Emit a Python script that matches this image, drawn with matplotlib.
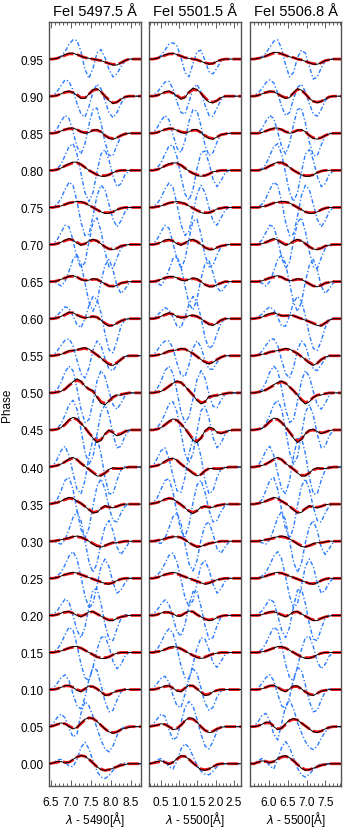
import numpy as np
import matplotlib.pyplot as plt
from matplotlib.ticker import MultipleLocator

plt.rcParams['font.family'] = ['Liberation Sans', 'DejaVu Sans']

# fases do ciclo
phases = [0.00, 0.05, 0.10, 0.15, 0.20, 0.25, 0.30, 0.35, 0.40, 0.45,
          0.50, 0.55, 0.60, 0.65, 0.70, 0.75, 0.80, 0.85, 0.90, 0.95]

# grades de comprimento de onda
lam_a = [6.45, 6.55, 6.65, 6.75, 6.85, 6.95, 7.05, 7.15, 7.25, 7.35, 7.45, 7.55,
         7.65, 7.75, 7.85, 7.95, 8.05, 8.15, 8.25, 8.35, 8.45, 8.55, 8.65, 8.75]
lam_b = [0.17, 0.28, 0.39, 0.50, 0.61, 0.72, 0.83, 0.94, 1.05, 1.16, 1.27, 1.38,
         1.49, 1.60, 1.71, 1.82, 1.93, 2.04, 2.15, 2.26, 2.37, 2.48, 2.59, 2.70]
lam_c = [5.500, 5.605, 5.710, 5.815, 5.920, 6.025, 6.130, 6.235, 6.340, 6.445, 6.550, 6.655,
         6.760, 6.865, 6.970, 7.075, 7.180, 7.285, 7.390, 7.495, 7.600, 7.705, 7.810, 7.915]

# perfis residuais (unidades de 0.001 em fase), uma linha por fase
# --- FeI 5497.5 ---
obs_a = [
    [0, 1, 3, 3, 1, 2, 6, 9, 11, 10, 6, 1, -4, -8, -9, -8, -6, -4, -2, -1, 0, 0, 0, 0],
    [0, 1, 3, 5, 4, 0, -3, -1, 5, 10, 12, 11, 7, 2, -3, -7, -9, -7, -4, -2, -1, 0, 0, 0],
    [0, 0, 1, 3, 5, 6, 3, -1, -3, 1, 5, 4, 1, -3, -8, -7, -4, -2, -1, 0, 0, 0, 0, 0],
    [0, 0, 1, 2, 4, 6, 8, 8, 6, 3, 0, -3, -6, -8, -8, -6, -3, -1, 0, 0, 0, 0, 0, 0],
    [0, 0, 1, 3, 5, 5, 3, 0, -2, 1, 5, 5, 2, -1, -4, -7, -7, -4, -2, -1, 0, 0, 0, 0],
    [0, 0, 1, 3, 5, 7, 8, 7, 5, 3, 1, -1, -3, -5, -7, -8, -6, -3, -1, 0, 0, 0, 0, 0],
    [0, 0, 1, 2, 3, 5, 6, 7, 6, 3, 0, -4, -7, -8, -6, -3, -2, -2, -1, 0, 0, 0, 0, 0],
    [0, 1, 2, 4, 7, 9, 8, 4, 1, -3, -8, -12, -11, -6, -2, -4, -5, -3, -1, 0, 0, 0, 0, 0],
    [0, 1, 2, 4, 7, 11, 13, 10, 5, 1, -3, -8, -12, -12, -8, -3, -1, -2, -2, -1, 0, 0, 0, 0],
    [0, 0, 1, 3, 8, 14, 17, 15, 9, 3, -4, -11, -17, -14, -5, 0, -4, -8, -6, -2, 0, 0, 0, 0],
    [0, 0, 1, 2, 5, 10, 15, 19, 16, 9, 5, 3, -6, -14, -16, -11, -5, -3, -3, -1, 0, 0, 0, 0],
    [0, 0, 1, 2, 4, 7, 7, 8, 10, 11, 9, 5, 1, -3, -8, -12, -13, -10, -5, -1, 0, 0, 0, 0],
    [0, 0, 1, 3, 6, 9, 8, 5, 2, 1, 2, 3, 2, -2, -7, -10, -9, -6, -3, -1, 0, 0, 0, 0],
    [0, 0, 1, 3, 5, 7, 8, 6, 3, 1, 2, 4, 3, 0, -3, -6, -7, -5, -2, -1, 0, 0, 0, 0],
    [0, 0, 1, 3, 6, 8, 6, 2, -1, 1, 5, 7, 5, 1, -3, -6, -7, -5, -2, -1, 0, 0, 0, 0],
    [0, 0, 1, 2, 4, 6, 7, 8, 8, 6, 3, 0, -3, -6, -8, -8, -6, -3, -1, 0, 0, 0, 0, 0],
    [0, 0, 1, 3, 6, 9, 11, 11, 8, 4, 0, -3, -6, -8, -8, -6, -3, -1, 0, 0, 0, 0, 0, 0],
    [0, 0, 1, 3, 5, 7, 7, 5, 2, 0, 1, 4, 5, 2, -3, -7, -8, -6, -3, -1, 0, 0, 0, 0],
    [0, 0, 1, 3, 6, 7, 5, 1, -3, -3, 3, 9, 10, 6, 0, -6, -10, -8, -4, -1, 0, 0, 0, 0],
    [0, 0, 1, 3, 6, 8, 8, 6, 4, 2, 1, 0, -1, -2, -4, -6, -8, -8, -5, -2, 0, 0, 0, 0],
]
fit_a = [
    [0, 1, 2, 3, 2, 2, 5, 9, 11, 10, 6, 1, -4, -7, -9, -8, -6, -4, -2, -1, 0, 0, 0, 0],
    [0, 1, 3, 4, 4, 1, -2, -1, 4, 9, 12, 11, 7, 2, -3, -7, -8, -7, -4, -2, 0, 0, 0, 0],
    [0, 0, 1, 3, 5, 5, 3, 0, -2, 1, 4, 4, 1, -3, -7, -7, -4, -2, -1, 0, 0, 0, 0, 0],
    [0, 0, 1, 2, 4, 6, 7, 7, 6, 3, 0, -3, -6, -7, -7, -6, -3, -1, 0, 0, 0, 0, 0, 0],
    [0, 0, 1, 3, 4, 5, 3, 1, -1, 1, 4, 5, 2, -1, -4, -6, -6, -4, -2, -1, 0, 0, 0, 0],
    [0, 0, 1, 3, 5, 6, 7, 7, 5, 3, 1, -1, -3, -5, -7, -7, -6, -3, -1, 0, 0, 0, 0, 0],
    [0, 0, 1, 2, 3, 4, 6, 6, 5, 3, 0, -3, -6, -7, -6, -4, -2, -2, -1, 0, 0, 0, 0, 0],
    [0, 1, 2, 4, 6, 8, 7, 4, 1, -3, -7, -11, -10, -6, -3, -4, -4, -3, -1, 0, 0, 0, 0, 0],
    [0, 1, 2, 4, 7, 10, 12, 10, 5, 1, -3, -7, -11, -11, -8, -4, -2, -2, -2, -1, 0, 0, 0, 0],
    [0, 0, 1, 3, 7, 13, 16, 14, 9, 3, -4, -10, -15, -13, -6, -1, -3, -6, -5, -2, 0, 0, 0, 0],
    [0, 0, 1, 2, 5, 10, 14, 17, 15, 9, 5, 2, -5, -12, -14, -11, -6, -3, -2, -1, 0, 0, 0, 0],
    [0, 0, 1, 2, 4, 6, 7, 8, 9, 10, 8, 5, 1, -3, -7, -11, -12, -9, -5, -1, 0, 0, 0, 0],
    [0, 0, 1, 3, 5, 8, 8, 5, 3, 1, 2, 3, 2, -2, -6, -9, -9, -6, -3, -1, 0, 0, 0, 0],
    [0, 0, 1, 3, 5, 7, 7, 6, 3, 2, 2, 3, 3, 0, -3, -6, -6, -5, -2, -1, 0, 0, 0, 0],
    [0, 0, 1, 3, 5, 7, 6, 3, 0, 1, 4, 6, 5, 1, -3, -6, -6, -5, -2, -1, 0, 0, 0, 0],
    [0, 0, 1, 2, 4, 6, 7, 7, 7, 6, 3, 0, -3, -6, -7, -7, -6, -3, -1, 0, 0, 0, 0, 0],
    [0, 0, 1, 3, 6, 8, 10, 10, 8, 4, 0, -3, -6, -7, -7, -6, -3, -1, 0, 0, 0, 0, 0, 0],
    [0, 0, 1, 3, 5, 6, 6, 5, 2, 1, 2, 4, 4, 2, -3, -6, -7, -6, -3, -1, 0, 0, 0, 0],
    [0, 0, 1, 3, 5, 6, 5, 2, -2, -2, 3, 8, 9, 6, 0, -5, -9, -8, -4, -1, 0, 0, 0, 0],
    [0, 0, 1, 3, 5, 7, 7, 6, 4, 2, 1, 0, -1, -2, -4, -6, -7, -7, -5, -2, 0, 0, 0, 0],
]
blue_a = [
    [0, 1, 5, 6, 2, -3, -4, 6, 22, 29, 20, 4, -10, -18, -20, -16, -9, -3, 0, 1, 0, 0, 0, 0],
    [0, 4, 12, 17, 12, -2, -14, -10, 18, 34, 28, 14, -2, -18, -30, -34, -26, -12, -3, 0, 0, 0, 0, 0],
    [0, 2, 8, 16, 20, 12, -6, -22, -26, -10, 14, 30, 26, 6, -16, -30, -28, -14, -3, 1, 0, 0, 0, 0],
    [0, 1, 4, 12, 24, 34, 30, 10, -16, -34, -38, -20, 4, 20, 22, 8, -12, -22, -16, -5, 0, 0, 0, 0],
    [0, 2, 6, 14, 22, 18, 0, -20, -30, -16, 12, 34, 36, 16, -12, -32, -34, -18, -4, 1, 0, 0, 0, 0],
    [0, 1, 3, 8, 18, 30, 36, 26, 2, -24, -40, -34, -10, 16, 26, 16, -6, -20, -16, -6, 0, 0, 0, 0],
    [0, 0, -2, -4, 2, 16, 32, 40, 28, 0, -28, -42, -30, -2, 20, 28, 14, -8, -18, -10, -2, 0, 0, 0],
    [0, 1, 6, 18, 32, 36, 20, -8, -34, -46, -32, -2, 24, 34, 20, -4, -22, -24, -12, -3, 0, 0, 0, 0],
    [0, 2, 10, 22, 28, 16, -8, -30, -36, -18, 14, 38, 40, 18, -14, -36, -36, -18, -4, 1, 0, 0, 0, 0],
    [0, 0, 2, 8, 20, 34, 40, 28, 0, -30, -46, -36, -6, 24, 34, 20, -6, -24, -22, -8, -1, 0, 0, 0],
    [0, 1, 4, 14, 28, 36, 30, 6, -22, -40, -36, -12, 16, 30, 22, 2, -16, -22, -14, -4, 0, 0, 0, 0],
    [0, 1, 6, 14, 21, 23, 14, -6, -24, -30, -16, 8, 20, 14, -4, -18, -20, -12, -4, 0, 0, 0, 0, 0],
    [0, 1, 4, 10, 16, 14, 4, -8, -12, 0, 18, 30, 26, 8, -20, -42, -46, -30, -10, -1, 0, 0, 0, 0],
    [0, 0, -2, -6, 0, 14, 30, 36, 24, -2, -28, -40, -28, 0, 22, 30, 16, -6, -16, -10, -2, 0, 0, 0],
    [0, 1, 6, 16, 26, 24, 6, -18, -32, -24, 4, 30, 36, 18, -10, -30, -32, -18, -5, 0, 0, 0, 0, 0],
    [0, 1, 4, 12, 24, 34, 30, 8, -20, -38, -36, -12, 16, 30, 24, 4, -16, -26, -18, -6, 0, 0, 0, 0],
    [0, 0, 2, 8, 20, 32, 36, 22, -4, -30, -42, -30, -2, 22, 28, 14, -8, -22, -18, -6, -1, 0, 0, 0],
    [0, 1, 6, 16, 24, 20, 2, -18, -28, -14, 12, 32, 34, 14, -12, -30, -30, -16, -4, 0, 0, 0, 0, 0],
    [0, 1, 6, 14, 22, 20, 8, -10, -24, -28, -14, 6, 16, 10, -6, -22, -29, -22, -10, -2, 0, 0, 0, 0],
    [0, 0, 1, 4, 10, 20, 26, 25, 10, -14, -26, -12, 8, 13, 2, -14, -24, -20, -10, -3, 0, 0, 0, 0],
]

# --- FeI 5501.5 ---
obs_b = [
    [0, 1, 3, 4, 2, -1, 2, 7, 11, 10, 6, 1, -4, -8, -9, -7, -4, -1, 0, 0, 0, 0, 0, 0],
    [0, 1, 2, 4, 3, 0, -4, -3, 2, 8, 12, 11, 6, 0, -5, -8, -7, -3, -1, 0, 0, 0, 0, 0],
    [0, 0, 1, 3, 5, 5, 2, -2, -3, 2, 6, 5, 1, -4, -8, -7, -3, -1, 0, 0, 0, 0, 0, 0],
    [0, 0, 1, 2, 4, 7, 8, 7, 5, 2, -1, -4, -7, -8, -7, -4, -2, -1, 0, 0, 0, 0, 0, 0],
    [0, 0, 1, 3, 5, 4, 2, -1, -1, 3, 6, 5, 1, -2, -5, -7, -6, -3, -1, 0, 0, 0, 0, 0],
    [0, 0, 1, 3, 5, 7, 8, 7, 4, 2, 0, -2, -4, -6, -8, -7, -4, -2, -1, 0, 0, 0, 0, 0],
    [0, 0, 1, 2, 4, 5, 6, 6, 5, 2, -2, -5, -8, -7, -5, -3, -2, -1, 0, 0, 0, 0, 0, 0],
    [0, 1, 2, 4, 7, 8, 7, 3, 0, -5, -10, -13, -9, -4, -3, -5, -4, -2, -1, 0, 0, 0, 0, 0],
    [0, 1, 2, 4, 8, 11, 12, 9, 4, 0, -4, -9, -12, -10, -5, -2, -2, -3, -2, -1, 0, 0, 0, 0],
    [0, 0, 1, 3, 7, 12, 15, 13, 8, 2, -6, -14, -17, -11, -1, 4, 2, -3, -5, -3, -1, 0, 0, 0],
    [0, 0, 1, 2, 5, 9, 13, 16, 14, 9, 3, -3, -10, -15, -12, -5, -4, -4, -2, -1, 0, 0, 0, 0],
    [0, 0, 1, 2, 4, 7, 7, 8, 10, 9, 6, 3, -1, -5, -9, -11, -9, -5, -2, 0, 0, 0, 0, 0],
    [0, 0, 1, 3, 6, 8, 6, 3, 1, 2, 4, 5, 3, 0, -4, -8, -9, -6, -2, 0, 0, 0, 0, 0],
    [0, 0, 1, 3, 5, 7, 7, 5, 2, 1, 3, 5, 4, 0, -4, -7, -7, -4, -2, 0, 0, 0, 0, 0],
    [0, 0, 1, 3, 6, 7, 5, 1, -1, 2, 6, 7, 4, 0, -4, -7, -7, -4, -2, -1, 0, 0, 0, 0],
    [0, 0, 1, 2, 4, 6, 7, 8, 7, 5, 2, -1, -4, -7, -8, -7, -5, -2, -1, 0, 0, 0, 0, 0],
    [0, 0, 1, 3, 6, 9, 10, 10, 7, 3, -1, -4, -7, -8, -7, -5, -2, -1, 0, 0, 0, 0, 0, 0],
    [0, 0, 1, 3, 5, 7, 6, 4, 1, 0, 2, 5, 5, 1, -4, -7, -8, -5, -2, -1, 0, 0, 0, 0],
    [0, 0, 1, 3, 6, 7, 4, 0, -4, -2, 6, 11, 9, 4, -3, -8, -9, -6, -2, 0, 0, 0, 0, 0],
    [0, 0, 1, 3, 6, 7, 8, 6, 4, 2, 1, 0, -1, -3, -5, -7, -6, -3, -1, 0, 0, 0, 0, 0],
]
fit_b = [
    [0, 1, 2, 3, 2, 0, 2, 6, 10, 10, 6, 1, -3, -7, -8, -7, -4, -1, 0, 0, 0, 0, 0, 0],
    [0, 1, 2, 3, 3, 0, -3, -2, 2, 8, 11, 10, 6, 0, -5, -7, -6, -3, -1, 0, 0, 0, 0, 0],
    [0, 0, 1, 3, 4, 5, 2, -1, -2, 2, 5, 5, 1, -3, -7, -6, -3, -1, 0, 0, 0, 0, 0, 0],
    [0, 0, 1, 2, 4, 6, 7, 7, 5, 2, -1, -4, -6, -7, -6, -4, -2, -1, 0, 0, 0, 0, 0, 0],
    [0, 0, 1, 3, 4, 4, 2, 0, 0, 3, 5, 5, 1, -2, -5, -6, -5, -3, -1, 0, 0, 0, 0, 0],
    [0, 0, 1, 3, 5, 6, 7, 6, 4, 2, 0, -2, -4, -6, -7, -6, -4, -2, -1, 0, 0, 0, 0, 0],
    [0, 0, 1, 2, 3, 5, 6, 6, 5, 2, -2, -5, -7, -7, -5, -3, -2, -1, 0, 0, 0, 0, 0, 0],
    [0, 1, 2, 4, 6, 8, 7, 3, -1, -5, -9, -11, -9, -5, -3, -4, -4, -2, -1, 0, 0, 0, 0, 0],
    [0, 1, 2, 4, 7, 10, 11, 9, 4, 0, -4, -8, -11, -10, -5, -2, -2, -2, -2, -1, 0, 0, 0, 0],
    [0, 0, 1, 3, 7, 11, 14, 13, 8, 2, -5, -12, -15, -11, -2, 2, 1, -3, -4, -3, -1, 0, 0, 0],
    [0, 0, 1, 2, 5, 9, 13, 15, 14, 9, 3, -3, -9, -13, -12, -6, -4, -3, -2, -1, 0, 0, 0, 0],
    [0, 0, 1, 2, 4, 6, 7, 8, 9, 9, 6, 3, -1, -5, -8, -10, -8, -5, -2, 0, 0, 0, 0, 0],
    [0, 0, 1, 3, 5, 7, 6, 3, 2, 2, 4, 4, 3, 0, -4, -7, -8, -6, -2, 0, 0, 0, 0, 0],
    [0, 0, 1, 3, 5, 6, 6, 5, 3, 2, 3, 4, 3, 0, -4, -6, -6, -4, -2, 0, 0, 0, 0, 0],
    [0, 0, 1, 3, 5, 6, 5, 2, 0, 2, 5, 6, 4, 0, -4, -6, -6, -4, -2, -1, 0, 0, 0, 0],
    [0, 0, 1, 2, 4, 6, 7, 7, 6, 5, 2, -1, -4, -6, -7, -7, -5, -2, -1, 0, 0, 0, 0, 0],
    [0, 0, 1, 3, 6, 8, 9, 9, 7, 3, -1, -4, -6, -7, -7, -5, -2, -1, 0, 0, 0, 0, 0, 0],
    [0, 0, 1, 3, 5, 6, 6, 4, 2, 1, 2, 4, 4, 1, -3, -6, -7, -5, -2, -1, 0, 0, 0, 0],
    [0, 0, 1, 3, 5, 6, 4, 1, -3, -1, 5, 9, 8, 4, -2, -7, -8, -6, -2, 0, 0, 0, 0, 0],
    [0, 0, 1, 3, 5, 7, 7, 6, 4, 2, 1, 0, -1, -3, -5, -6, -6, -3, -1, 0, 0, 0, 0, 0],
]
blue_b = [
    [0, 1, 5, 7, 3, -4, -7, 4, 20, 27, 22, 10, -2, -10, -14, -15, -10, -4, 0, 0, 0, 0, 0, 0],
    [0, 3, 10, 17, 14, -4, -18, -14, 6, 26, 34, 28, 10, -10, -26, -30, -20, -6, 0, 0, 0, 0, 0, 0],
    [0, 2, 8, 15, 18, 10, -8, -22, -24, -6, 16, 28, 22, 2, -18, -28, -24, -10, -2, 0, 0, 0, 0, 0],
    [0, 1, 4, 13, 25, 32, 26, 6, -18, -34, -36, -16, 6, 20, 18, 4, -14, -20, -12, -3, 0, 0, 0, 0],
    [0, 2, 7, 15, 21, 15, -3, -22, -28, -12, 14, 32, 32, 12, -14, -32, -30, -14, -2, 0, 0, 0, 0, 0],
    [0, 1, 4, 10, 20, 31, 34, 22, -2, -26, -38, -30, -6, 18, 24, 12, -8, -20, -14, -4, 0, 0, 0, 0],
    [0, 0, -2, -3, 4, 18, 33, 38, 24, -4, -30, -40, -26, 2, 22, 26, 10, -10, -16, -8, -1, 0, 0, 0],
    [0, 2, 8, 20, 32, 34, 16, -12, -36, -44, -28, 2, 26, 32, 16, -8, -24, -22, -10, -2, 0, 0, 0, 0],
    [0, 2, 11, 22, 26, 12, -12, -32, -34, -14, 18, 38, 36, 14, -18, -36, -32, -14, -3, 0, 0, 0, 0, 0],
    [0, 0, 3, 10, 22, 35, 38, 24, -4, -32, -44, -32, -2, 26, 32, 16, -10, -24, -18, -6, 0, 0, 0, 0],
    [0, 1, 5, 16, 30, 36, 26, 2, -26, -40, -32, -8, 18, 30, 20, -2, -18, -20, -10, -2, 0, 0, 0, 0],
    [0, 1, 7, 15, 20, 20, 10, -10, -26, -28, -12, 10, 20, 12, -6, -18, -18, -9, -2, 0, 0, 0, 0, 0],
    [0, 1, 4, 10, 15, 12, 2, -10, -12, 2, 20, 30, 22, 2, -26, -40, -36, -20, -6, 0, 0, 0, 0, 0],
    [0, 0, -2, -5, 2, 16, 31, 34, 20, -6, -30, -38, -24, 4, 24, 28, 12, -8, -14, -7, -1, 0, 0, 0],
    [0, 1, 7, 17, 26, 22, 2, -20, -32, -20, 8, 32, 34, 14, -14, -30, -28, -14, -3, 0, 0, 0, 0, 0],
    [0, 1, 5, 13, 25, 33, 27, 4, -23, -38, -32, -8, 18, 30, 20, 0, -18, -24, -14, -4, 0, 0, 0, 0],
    [0, 0, 3, 10, 22, 33, 34, 18, -8, -32, -40, -26, 2, 24, 26, 10, -12, -22, -14, -4, 0, 0, 0, 0],
    [0, 1, 7, 17, 24, 18, -2, -20, -26, -10, 16, 32, 30, 10, -16, -30, -26, -12, -2, 0, 0, 0, 0, 0],
    [0, 1, 5, 12, 19, 20, 10, -8, -22, -24, -8, 10, 16, 6, -12, -26, -27, -16, -5, 0, 0, 0, 0, 0],
    [0, 0, 1, 5, 12, 20, 22, 18, 2, -18, -24, -6, 10, 12, -2, -17, -20, -12, -3, 0, 0, 0, 0, 0],
]

# --- FeI 5506.8 ---
obs_c = [
    [0, 0, 2, 4, 3, 1, 3, 7, 10, 11, 8, 4, -1, -6, -9, -8, -6, -4, -2, -1, 0, 0, 0, 0],
    [0, 0, 1, 3, 6, 6, 0, -4, -2, 4, 9, 11, 9, 5, 1, -3, -7, -8, -6, -3, -1, 0, 0, 0],
    [0, 0, 0, 1, 3, 5, 6, 3, -1, -3, 1, 5, 5, 1, -3, -7, -8, -5, -2, -1, 0, 0, 0, 0],
    [0, 0, 0, 1, 2, 4, 6, 8, 8, 6, 3, 0, -3, -6, -8, -8, -6, -3, -1, 0, 0, 0, 0, 0],
    [0, 0, 0, 1, 3, 5, 5, 3, 0, -2, 1, 5, 5, 2, -1, -4, -7, -7, -4, -2, -1, 0, 0, 0],
    [0, 0, 0, 1, 3, 5, 7, 8, 7, 5, 3, 1, -1, -3, -5, -7, -8, -6, -3, -1, 0, 0, 0, 0],
    [0, 0, 0, 1, 2, 3, 5, 6, 7, 6, 3, 0, -4, -7, -8, -6, -3, -2, -2, -1, 0, 0, 0, 0],
    [0, 0, 1, 2, 4, 7, 9, 8, 4, 1, -3, -8, -12, -11, -6, -2, -4, -5, -3, -1, 0, 0, 0, 0],
    [0, 0, 1, 2, 4, 7, 11, 13, 10, 5, 1, -3, -8, -12, -12, -8, -3, -1, -2, -2, -1, 0, 0, 0],
    [0, 0, 1, 2, 6, 12, 16, 15, 10, 4, -3, -11, -17, -13, -5, 0, 1, -2, -5, -3, -1, 0, 0, 0],
    [0, 0, 1, 2, 4, 7, 11, 14, 16, 13, 8, 3, -3, -10, -15, -12, -6, -3, -3, -1, 0, 0, 0, 0],
    [0, 0, 1, 2, 3, 5, 6, 7, 8, 10, 9, 6, 3, -1, -5, -10, -13, -10, -5, -2, 0, 0, 0, 0],
    [0, 0, 1, 2, 5, 7, 8, 6, 4, 4, 5, 4, 2, 0, -2, -4, -7, -9, -10, -6, -2, 0, 0, 0],
    [0, 0, 0, 1, 3, 5, 7, 8, 6, 3, 1, 2, 4, 3, 0, -3, -6, -7, -5, -2, -1, 0, 0, 0],
    [0, 0, 0, 1, 3, 6, 8, 6, 2, -1, 1, 5, 7, 5, 1, -3, -6, -7, -5, -2, -1, 0, 0, 0],
    [0, 0, 0, 1, 2, 4, 6, 7, 8, 8, 6, 3, 0, -3, -6, -8, -8, -6, -3, -1, 0, 0, 0, 0],
    [0, 0, 0, 1, 3, 6, 9, 11, 11, 8, 4, 0, -3, -6, -8, -8, -6, -3, -1, 0, 0, 0, 0, 0],
    [0, 0, 0, 1, 3, 5, 7, 7, 5, 2, 0, 1, 4, 5, 2, -3, -7, -8, -6, -3, -1, 0, 0, 0],
    [0, 0, 1, 3, 5, 7, 6, 3, 0, -3, -2, 5, 10, 8, 3, -3, -7, -9, -7, -4, -1, 0, 0, 0],
    [0, 0, 1, 2, 4, 7, 9, 9, 7, 5, 3, 2, 0, -1, -3, -5, -7, -7, -5, -2, -1, 0, 0, 0],
]
fit_c = [
    [0, 0, 2, 3, 3, 2, 3, 6, 9, 10, 8, 4, -1, -5, -8, -8, -6, -4, -2, -1, 0, 0, 0, 0],
    [0, 0, 1, 3, 5, 5, 1, -3, -2, 3, 8, 10, 9, 5, 1, -3, -6, -7, -6, -3, -1, 0, 0, 0],
    [0, 0, 0, 1, 3, 5, 5, 3, 0, -2, 1, 4, 4, 1, -3, -6, -7, -5, -2, -1, 0, 0, 0, 0],
    [0, 0, 0, 1, 2, 4, 6, 7, 7, 6, 3, 0, -3, -6, -7, -7, -6, -3, -1, 0, 0, 0, 0, 0],
    [0, 0, 0, 1, 3, 4, 5, 3, 1, -1, 1, 4, 5, 2, -1, -4, -6, -6, -4, -2, -1, 0, 0, 0],
    [0, 0, 0, 1, 3, 5, 6, 7, 7, 5, 3, 1, -1, -3, -5, -7, -7, -6, -3, -1, 0, 0, 0, 0],
    [0, 0, 0, 1, 2, 3, 4, 6, 6, 5, 3, 0, -3, -6, -7, -6, -4, -2, -2, -1, 0, 0, 0, 0],
    [0, 0, 1, 2, 4, 6, 8, 7, 4, 1, -3, -7, -11, -10, -6, -3, -4, -4, -3, -1, 0, 0, 0, 0],
    [0, 0, 1, 2, 4, 7, 10, 12, 10, 5, 1, -3, -7, -11, -11, -8, -4, -2, -2, -2, -1, 0, 0, 0],
    [0, 0, 1, 2, 6, 11, 15, 14, 10, 4, -3, -10, -15, -12, -5, -1, 0, -2, -4, -3, -1, 0, 0, 0],
    [0, 0, 1, 2, 4, 7, 10, 13, 15, 13, 8, 3, -3, -9, -13, -11, -6, -3, -2, -1, 0, 0, 0, 0],
    [0, 0, 1, 2, 3, 5, 6, 7, 8, 9, 8, 6, 3, -1, -5, -9, -12, -10, -5, -2, 0, 0, 0, 0],
    [0, 0, 1, 2, 4, 6, 7, 6, 4, 4, 4, 4, 2, 0, -2, -4, -6, -8, -9, -6, -2, 0, 0, 0],
    [0, 0, 0, 1, 3, 5, 6, 7, 6, 3, 2, 2, 3, 3, 0, -3, -6, -6, -5, -2, -1, 0, 0, 0],
    [0, 0, 0, 1, 3, 5, 7, 6, 3, 0, 1, 4, 6, 5, 1, -3, -6, -6, -5, -2, -1, 0, 0, 0],
    [0, 0, 0, 1, 2, 4, 6, 7, 7, 7, 6, 3, 0, -3, -6, -7, -7, -6, -3, -1, 0, 0, 0, 0],
    [0, 0, 0, 1, 3, 6, 8, 10, 10, 8, 4, 0, -3, -6, -7, -7, -6, -3, -1, 0, 0, 0, 0, 0],
    [0, 0, 0, 1, 3, 5, 6, 6, 5, 2, 1, 2, 4, 4, 2, -3, -6, -7, -6, -3, -1, 0, 0, 0],
    [0, 0, 1, 3, 5, 6, 6, 3, 0, -2, -1, 4, 9, 8, 3, -3, -7, -8, -7, -4, -1, 0, 0, 0],
    [0, 0, 1, 2, 4, 6, 8, 8, 7, 5, 3, 2, 0, -1, -3, -5, -6, -7, -5, -2, -1, 0, 0, 0],
]
blue_c = [
    [0, 1, 4, 7, 4, -3, -7, 6, 22, 30, 22, 8, -6, -15, -18, -14, -8, -3, 0, 0, 0, 0, 0, 0],
    [0, 1, 6, 15, 18, 8, -10, -18, 4, 28, 36, 24, 6, -8, -20, -28, -31, -26, -16, -7, -2, 0, 0, 0],
    [0, 0, 2, 8, 16, 20, 12, -6, -22, -26, -10, 14, 30, 26, 6, -16, -30, -28, -14, -3, 1, 0, 0, 0],
    [0, 0, 1, 4, 12, 24, 34, 30, 10, -16, -34, -38, -20, 4, 20, 22, 8, -12, -22, -16, -5, 0, 0, 0],
    [0, 0, 2, 6, 14, 22, 18, 0, -20, -30, -16, 12, 34, 36, 16, -12, -32, -34, -18, -4, 1, 0, 0, 0],
    [0, 0, 1, 3, 8, 18, 30, 36, 26, 2, -24, -40, -34, -10, 16, 26, 16, -6, -20, -16, -6, 0, 0, 0],
    [0, 0, 0, -2, -4, 2, 16, 32, 40, 28, 0, -28, -42, -30, -2, 20, 28, 14, -8, -18, -10, -2, 0, 0],
    [0, 0, 1, 6, 18, 32, 36, 20, -8, -34, -46, -32, -2, 24, 34, 20, -4, -22, -24, -12, -3, 0, 0, 0],
    [0, 0, 2, 10, 22, 28, 16, -8, -30, -36, -18, 14, 38, 40, 18, -14, -36, -36, -18, -4, 1, 0, 0, 0],
    [0, 0, 0, 2, 8, 20, 34, 40, 28, 0, -30, -46, -36, -6, 24, 34, 20, -6, -24, -22, -8, -1, 0, 0],
    [0, 0, 1, 4, 14, 28, 36, 30, 6, -22, -40, -36, -12, 16, 30, 22, 2, -16, -22, -14, -4, 0, 0, 0],
    [0, 0, 1, 6, 14, 21, 23, 14, -6, -24, -30, -16, 8, 20, 14, -4, -18, -20, -12, -4, 0, 0, 0, 0],
    [0, 0, 2, 6, 12, 16, 12, 2, -10, -10, 4, 22, 30, 24, 4, -22, -40, -43, -30, -12, -2, 0, 0, 0],
    [0, 0, 0, -2, -6, 0, 14, 30, 36, 24, -2, -28, -40, -28, 0, 22, 30, 16, -6, -16, -10, -2, 0, 0],
    [0, 0, 1, 6, 16, 26, 24, 6, -18, -32, -24, 4, 30, 36, 18, -10, -30, -32, -18, -5, 0, 0, 0, 0],
    [0, 0, 1, 4, 12, 24, 34, 30, 8, -20, -38, -36, -12, 16, 30, 24, 4, -16, -26, -18, -6, 0, 0, 0],
    [0, 0, 0, 2, 8, 20, 32, 36, 22, -4, -30, -42, -30, -2, 22, 28, 14, -8, -22, -18, -6, -1, 0, 0],
    [0, 0, 1, 6, 16, 24, 20, 2, -18, -28, -14, 12, 32, 34, 14, -12, -30, -30, -16, -4, 0, 0, 0, 0],
    [0, 1, 4, 10, 18, 22, 18, 4, -14, -26, -22, -4, 12, 16, 6, -10, -24, -27, -18, -6, -1, 0, 0, 0],
    [0, 0, 1, 3, 8, 16, 24, 26, 14, -8, -24, -18, 2, 12, 8, -10, -27, -24, -12, -3, 0, 0, 0, 0],
]

titles = ['FeI 5497.5 Å', 'FeI 5501.5 Å', 'FeI 5506.8 Å']
xlabels = [r'$\lambda$ - 5490[Å]', r'$\lambda$ - 5500[Å]', r'$\lambda$ - 5500[Å]']
xticks_a = [6.5, 7.0, 7.5, 8.0, 8.5]
xticks_b = [0.5, 1.0, 1.5, 2.0, 2.5]
xticks_c = [6.0, 6.5, 7.0, 7.5]

paineis = [
    (lam_a, obs_a, fit_a, blue_a, xticks_a, (6.45, 8.75)),
    (lam_b, obs_b, fit_b, blue_b, xticks_b, (0.17, 2.70)),
    (lam_c, obs_c, fit_c, blue_c, xticks_c, (5.50, 7.915)),
]
caixas = [[49/343, 41/828, 92/343, 764/828],
          [149/343, 41/828, 92/343, 764/828],
          [250/343, 41/828, 91/343, 764/828]]

fig = plt.figure(figsize=(3.43, 8.28), dpi=100)
escala = 0.001

for j in range(3):
    lam, obs, fit, blue, xt, xl = paineis[j]
    ax = fig.add_axes(caixas[j])
    for i in range(len(phases)):
        p = phases[i]
        ax.plot(lam, p + escala*np.array(blue[i]), color='#2b7cff', lw=1.0,
                ls=(0, (3, 1.5, 1, 1.5)), zorder=1)
        ax.plot(lam, p + escala*np.array(fit[i]), color='#ee1111', lw=2.0,
                ls=(0, (4, 1.2)), zorder=2)
        ax.plot(lam, p + escala*np.array(obs[i]), color='black', lw=0.7, zorder=3)
    ax.set_xlim(xl)
    ax.set_ylim(-0.03, 1.0)
    ax.set_xticks(xt)
    ax.set_xticklabels(['%.1f' % v for v in xt])
    ax.xaxis.set_minor_locator(MultipleLocator(0.1))
    ax.tick_params(axis='x', which='both', direction='in', top=True, bottom=True,
                   labelsize=8.5, pad=7, color='#444444')
    ax.tick_params(axis='x', which='major', length=4, width=0.6)
    ax.tick_params(axis='x', which='minor', length=2, width=0.6)
    ax.set_yticks(phases)
    if j == 0:
        ax.set_yticklabels(['%.2f' % v for v in phases])
        ax.set_ylabel('Phase', fontsize=8.5, labelpad=5)
    else:
        ax.set_yticklabels([])
    ax.tick_params(axis='y', length=0, labelsize=8.5, pad=4)
    for s in ax.spines.values():
        s.set_color('#555555')
        s.set_linewidth(1.0)
    ax.set_title(titles[j], fontsize=10.5, pad=5)
    ax.set_xlabel(xlabels[j], fontsize=8.5, labelpad=1)

fig.savefig('out.png', dpi=100)
